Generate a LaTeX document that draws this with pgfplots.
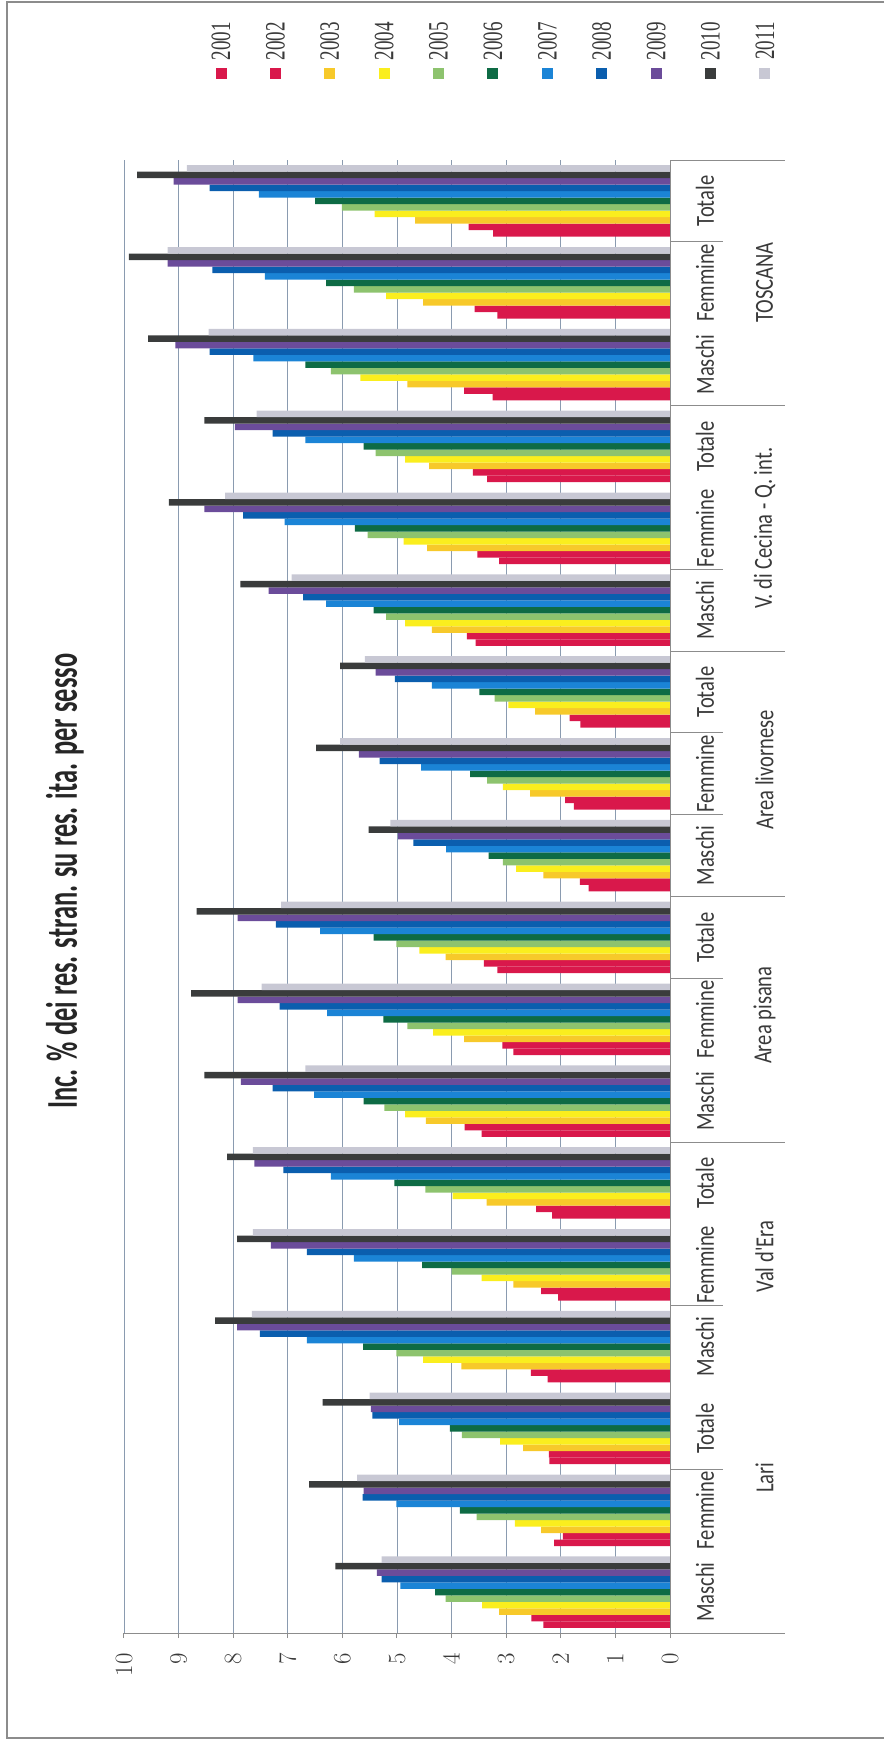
\documentclass[border=0pt]{standalone}
\usepackage{graphicx}
\usepackage{pgfplots}
\pgfplotsset{compat=1.18}
\usepackage{pgfplotstable}
\usepackage{fontspec}
\setmainfont{Carlito}
\newfontfamily\titlefont[FakeStretch=0.6]{Carlito}
\newfontfamily\labfont[FakeStretch=0.79]{Carlito}
\newfontfamily\numfont[FakeStretch=0.68]{Liberation Serif}

\definecolor{c01}{HTML}{D9184B}
\definecolor{c02}{HTML}{D9184B}
\definecolor{c03}{HTML}{F7C92A}
\definecolor{c04}{HTML}{FAEE1E}
\definecolor{c05}{HTML}{8DC36E}
\definecolor{c06}{HTML}{0E6B45}
\definecolor{c07}{HTML}{1B84D6}
\definecolor{c08}{HTML}{0B5EAE}
\definecolor{c09}{HTML}{6B4C9A}
\definecolor{c10}{HTML}{3A3C3C}
\definecolor{c11}{HTML}{C8C8D4}
\definecolor{gridc}{HTML}{8A9BB0}
\definecolor{axc}{HTML}{8C8C8C}
\definecolor{txt}{HTML}{3A3A3A}

\pgfplotstableread{
cat a b c d e f g h i j k
0  2.32 2.54 3.13 3.44 4.11 4.30 4.94 5.28 5.37 6.13 5.28
1  2.12 1.96 2.36 2.84 3.54 3.85 5.01 5.63 5.61 6.61 5.73
2  2.21 2.22 2.69 3.11 3.81 4.03 4.96 5.45 5.48 6.36 5.50
3  2.24 2.55 3.82 4.52 5.01 5.62 6.65 7.51 7.93 8.33 7.66
4  2.05 2.36 2.87 3.45 4.00 4.54 5.79 6.65 7.31 7.93 7.64
5  2.16 2.45 3.36 3.98 4.48 5.05 6.21 7.08 7.61 8.11 7.64
6  3.45 3.76 4.47 4.85 5.23 5.61 6.52 7.28 7.86 8.53 6.68
7  2.87 3.07 3.77 4.34 4.81 5.25 6.28 7.15 7.92 8.77 7.48
8  3.16 3.41 4.11 4.59 5.01 5.43 6.41 7.22 7.92 8.67 7.12
9  1.49 1.65 2.32 2.82 3.06 3.32 4.10 4.70 4.98 5.52 5.12
10 1.76 1.92 2.56 3.06 3.35 3.66 4.56 5.32 5.70 6.48 6.04
11 1.64 1.84 2.47 2.96 3.21 3.49 4.36 5.04 5.39 6.04 5.59
12 3.56 3.72 4.36 4.85 5.20 5.43 6.30 6.72 7.35 7.87 6.93
13 3.13 3.53 4.45 4.88 5.54 5.77 7.06 7.82 8.53 9.18 8.15
14 3.35 3.61 4.41 4.85 5.39 5.61 6.68 7.28 7.97 8.53 7.57
15 3.25 3.77 4.81 5.67 6.21 6.68 7.63 8.43 9.06 9.56 8.45
16 3.16 3.58 4.52 5.20 5.79 6.30 7.42 8.38 9.20 9.91 9.20
17 3.24 3.69 4.67 5.41 6.01 6.50 7.53 8.43 9.09 9.76 8.85
}\data

\tikzset{catlab/.style={rotate=90, font=\labfont\fontsize{26}{26}\selectfont, text=txt}}
\newcommand{\leg}[1]{\rotatebox{90}{#1}}

\begin{document}
\begin{tikzpicture}
\path (0pt,0pt) rectangle (885pt,-1744pt);
\draw[axc, line width=1.2pt] (884pt,-2pt) -- (7pt,-2pt) -- (7pt,-1738pt) -- (884pt,-1738pt);
\node[rotate=90, font=\titlefont\bfseries\fontsize{44}{44}\selectfont, text=black!85] at (65pt,-881pt) {Inc. \% dei res. stran. su res. ita. per sesso};
\begin{axis}[
  at={(124pt,-1633pt)}, anchor=south west,
  scale only axis, width=546pt, height=1473pt,
  xbar=0pt, bar width=6.5pt,
  xmin=0, xmax=10, x dir=reverse,
  ymin=-0.5, ymax=17.5,
  axis y line=none,
  axis x line*=bottom,
  x axis line style={axc, line width=1pt, -},
  xtick={0,...,10},
  tick align=outside, major tick length=5pt,
  xtick style={axc, line width=1pt},
  xticklabel shift={12pt},
  xticklabel style={rotate=90, anchor=east, font=\numfont\fontsize{28}{28}\selectfont, text=txt},
  xmajorgrids, grid style={gridc, line width=0.9pt},
  clip=false,
  legend columns=11,
  legend image code/.code={\fill[#1, overlay] (4pt,-37pt) rectangle (15pt,-26pt);},
  legend style={draw=none, fill=none, inner sep=0pt, outer sep=0pt,
    at={(axis description cs:0.1603,1.0937)}, anchor=north west,
    font=\numfont\fontsize{28}{28}\selectfont, text=txt,
    nodes={inner sep=0pt}, column sep=0pt,
    /tikz/every even column/.append style={column sep=35.5pt}},
]
\addplot[fill=c01, draw=none] table[x=a, y=cat] {\data}; \addlegendentry{\leg{2001}}
\addplot[fill=c02, draw=none] table[x=b, y=cat] {\data}; \addlegendentry{\leg{2002}}
\addplot[fill=c03, draw=none] table[x=c, y=cat] {\data}; \addlegendentry{\leg{2003}}
\addplot[fill=c04, draw=none] table[x=d, y=cat] {\data}; \addlegendentry{\leg{2004}}
\addplot[fill=c05, draw=none] table[x=e, y=cat] {\data}; \addlegendentry{\leg{2005}}
\addplot[fill=c06, draw=none] table[x=f, y=cat] {\data}; \addlegendentry{\leg{2006}}
\addplot[fill=c07, draw=none] table[x=g, y=cat] {\data}; \addlegendentry{\leg{2007}}
\addplot[fill=c08, draw=none] table[x=h, y=cat] {\data}; \addlegendentry{\leg{2008}}
\addplot[fill=c09, draw=none] table[x=i, y=cat] {\data}; \addlegendentry{\leg{2009}}
\addplot[fill=c10, draw=none] table[x=j, y=cat] {\data}; \addlegendentry{\leg{2010}}
\addplot[fill=c11, draw=none] table[x=k, y=cat] {\data}; \addlegendentry{\leg{2011}}

\draw[axc, line width=1pt] (axis cs:0,-0.5) -- (axis cs:0,17.5);
\pgfplotsinvokeforeach{1.5,3.5,7.5,9.5,10.5,12.5,16.5}{
  \draw[axc, line width=1pt] (axis cs:0,#1) -- (axis cs:-0.97,#1);
}
\pgfplotsinvokeforeach{-0.5,5.5,8.5,11.5,14.5,17.5}{
  \draw[axc, line width=1pt] (axis cs:0,#1) -- (axis cs:-2.1,#1);
}

\node[catlab] at (axis cs:-0.64,0) {Maschi};
\node[catlab] at (axis cs:-0.64,1) {Femmine};
\node[catlab] at (axis cs:-0.64,2) {Totale};
\node[catlab] at (axis cs:-0.64,3) {Maschi};
\node[catlab] at (axis cs:-0.64,4) {Femmine};
\node[catlab] at (axis cs:-0.64,5) {Totale};
\node[catlab] at (axis cs:-0.64,6) {Maschi};
\node[catlab] at (axis cs:-0.64,7) {Femmine};
\node[catlab] at (axis cs:-0.64,8) {Totale};
\node[catlab] at (axis cs:-0.64,9) {Maschi};
\node[catlab] at (axis cs:-0.64,10) {Femmine};
\node[catlab] at (axis cs:-0.64,11) {Totale};
\node[catlab] at (axis cs:-0.64,12) {Maschi};
\node[catlab] at (axis cs:-0.64,13) {Femmine};
\node[catlab] at (axis cs:-0.64,14) {Totale};
\node[catlab] at (axis cs:-0.64,15) {Maschi};
\node[catlab] at (axis cs:-0.64,16) {Femmine};
\node[catlab] at (axis cs:-0.64,17) {Totale};

\node[catlab] at (axis cs:-1.73,1.4) {Lari};
\node[catlab] at (axis cs:-1.73,4.1) {Val d'Era};
\node[catlab] at (axis cs:-1.73,7.05) {Area pisana};
\node[catlab] at (axis cs:-1.73,10.05) {Area livornese};
\node[catlab] at (axis cs:-1.73,13) {V. di Cecina - Q. int.};
\node[catlab] at (axis cs:-1.73,16) {TOSCANA};
\end{axis}
\end{tikzpicture}
\end{document}
